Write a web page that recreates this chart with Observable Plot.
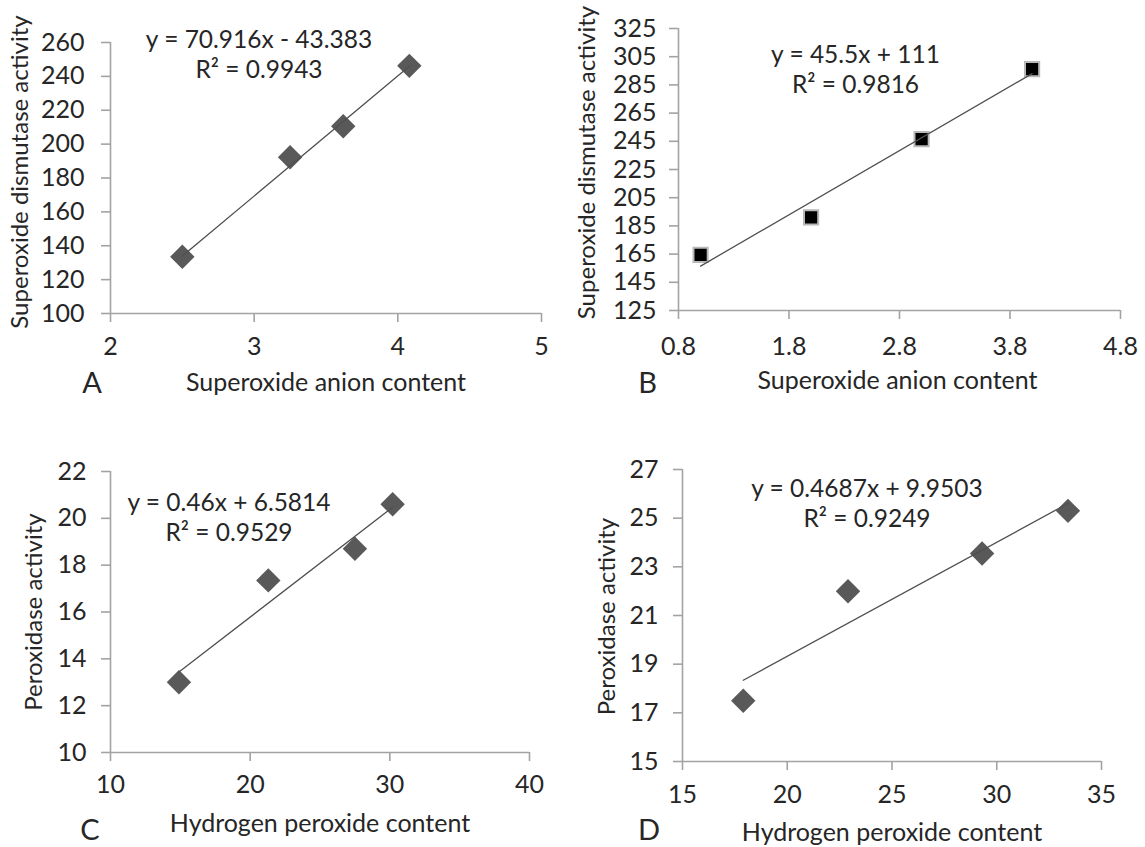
<!DOCTYPE html>
<html><head><meta charset="utf-8">
<script src="https://cdn.jsdelivr.net/npm/d3@7"></script>
<script src="https://cdn.jsdelivr.net/npm/@observablehq/plot@0.6"></script>
<style>
html,body{margin:0;padding:0;background:#fff;}
#wrap{position:relative;width:1145px;height:847px;overflow:hidden;background:#fff;}
.panel{position:absolute;}
</style></head><body><div id="wrap"></div>
<script>
// ---------- data ----------
const panelLetters = ["A", "B", "C", "D"];
const xLabels = ["Superoxide anion content", "Superoxide anion content", "Hydrogen peroxide content", "Hydrogen peroxide content"];
const yLabels = ["Superoxide dismutase activity", "Superoxide dismutase activity", "Peroxidase activity", "Peroxidase activity"];

const xA = [2.50, 3.25, 3.62, 4.08];
const yA = [133.5, 192.3, 210.6, 246.2];
const xB = [1.0, 2.0, 3.0, 4.0];
const yB = [164.5, 191.1, 246.6, 296.2];
const xC = [14.9, 21.3, 27.5, 30.2];
const yC = [13.0, 17.35, 18.7, 20.6];
const xD = [17.9, 22.9, 29.3, 33.4];
const yD = [17.5, 22.0, 23.55, 25.3];

const slopes = [70.916, 45.5, 0.46, 0.4687];
const intercepts = [-43.383, 111, 6.5814, 9.9503];
const equations = ["y = 70.916x - 43.383", "y = 45.5x + 111", "y = 0.46x + 6.5814", "y = 0.4687x + 9.9503"];
const rSquared = ["R\u00b2 = 0.9943", "R\u00b2 = 0.9816", "R\u00b2 = 0.9529", "R\u00b2 = 0.9249"];

const xTicksA = [2, 3, 4, 5];
const yTicksA = [100, 120, 140, 160, 180, 200, 220, 240, 260];
const xTicksB = [0.8, 1.8, 2.8, 3.8, 4.8];
const yTicksB = [125, 145, 165, 185, 205, 225, 245, 265, 285, 305, 325];
const xTicksC = [10, 20, 30, 40];
const yTicksC = [10, 12, 14, 16, 18, 20, 22];
const xTicksD = [15, 20, 25, 30, 35];
const yTicksD = [15, 17, 19, 21, 23, 25, 27];

// ---------- layout / style ----------
const FONT = "Lato";
const axisColor = "#a3a3a3";
const textColor = "#262626";
const TICK_FS = 25, LABEL_FS = 25, YLABEL_FS = 24, EQ_FS = 24.5, LETTER_FS = 29;

const panels = [
  {xs: xA, ys: yA, xTicks: xTicksA, yTicks: yTicksA, xFmt: d3.format("d"),
   left: 0, top: 0, width: 572, height: 420, mt: 42, mr: 31, mb: 107, ml: 110,
   xPad: 15, yPad: 17, symbol: "diamond2", r: 11, fill: "#595959", stroke: "none", sw: 0,
   eq: {dx: -67, dy: 11}, yl: {dx: -90, dy: -6}, xl: {dx: 0, dy: 69}, let: {dx: -234, dy: 70}},
  {xs: xB, ys: yB, xTicks: xTicksB, yTicks: yTicksB, xFmt: d3.format(".1f"),
   left: 572, top: 0, width: 573, height: 420, mt: 28, mr: 25, mb: 110, ml: 106,
   xPad: 18, yPad: 13, symbol: "square", r: 8, fill: "#000", stroke: "#b8b8b8", sw: 2,
   eq: {dx: -44, dy: 40}, yl: {dx: -91, dy: -7}, xl: {dx: -2, dy: 70}, let: {dx: -252, dy: 73}},
  {xs: xC, ys: yC, xTicks: xTicksC, yTicks: yTicksC, xFmt: d3.format("d"),
   left: 0, top: 420, width: 572, height: 427, mt: 51, mr: 43, mb: 95, ml: 110,
   xPad: 14, yPad: 15, symbol: "diamond2", r: 11, fill: "#595959", stroke: "none", sw: 0,
   eq: {dx: -91, dy: 45}, yl: {dx: -76, dy: 0}, xl: {dx: 0, dy: 71}, let: {dx: -230, dy: 78}},
  {xs: xD, ys: yD, xTicks: xTicksD, yTicks: yTicksD, xFmt: d3.format("d"),
   left: 572, top: 420, width: 573, height: 427, mt: 49, mr: 44, mb: 86, ml: 110,
   xPad: 15, yPad: 15, symbol: "diamond2", r: 11, fill: "#595959", stroke: "none", sw: 0,
   eq: {dx: -25, dy: 33}, yl: {dx: -75, dy: 1}, xl: {dx: 0, dy: 71}, let: {dx: -243, dy: 69}}
];

const wrap = document.getElementById("wrap");

panels.forEach((p, i) => {
  const pts = p.xs.map((x, k) => ({x, y: p.ys[k]}));
  const x0 = d3.min(p.xs), x1 = d3.max(p.xs);
  const trend = [x0, x1].map(x => ({x, y: slopes[i] * x + intercepts[i]}));
  const xDom = d3.extent(p.xTicks), yDom = d3.extent(p.yTicks);

  const chart = Plot.plot({
    width: p.width, height: p.height,
    marginTop: p.mt, marginRight: p.mr, marginBottom: p.mb, marginLeft: p.ml,
    style: {fontFamily: FONT, fontSize: TICK_FS + "px", color: textColor, background: "white", overflow: "visible"},
    x: {domain: xDom},
    y: {domain: yDom},
    marks: [
      Plot.ruleX([xDom[0]], {stroke: axisColor, strokeWidth: 1.6}),
      Plot.ruleY([yDom[0]], {stroke: axisColor, strokeWidth: 1.6}),
      Plot.axisX({ticks: p.xTicks, tickFormat: p.xFmt, tickSize: 9, tickPadding: p.xPad,
        stroke: axisColor, strokeWidth: 1.6, fill: textColor, fontSize: TICK_FS, label: null}),
      Plot.axisY({ticks: p.yTicks, tickFormat: d3.format("d"), tickSize: 9, tickPadding: p.yPad,
        stroke: axisColor, strokeWidth: 1.6, fill: textColor, fontSize: TICK_FS, label: null}),
      Plot.dot(pts, {x: "x", y: "y", symbol: p.symbol, r: p.r, fill: p.fill,
        stroke: p.stroke, strokeWidth: p.sw}),
      Plot.line(trend, {x: "x", y: "y", stroke: "#505050", strokeWidth: 1.3}),
      Plot.text([equations[i] + "\n" + rSquared[i]], {frameAnchor: "top", text: d => d,
        textAnchor: "middle", dx: p.eq.dx, dy: p.eq.dy, lineAnchor: "middle", lineHeight: 1.22,
        fontSize: EQ_FS, fill: textColor}),
      Plot.text([yLabels[i]], {frameAnchor: "left", text: d => d, rotate: -90, textAnchor: "middle",
        dx: p.yl.dx, dy: p.yl.dy, lineAnchor: "middle", fontSize: YLABEL_FS, fill: textColor}),
      Plot.text([xLabels[i]], {frameAnchor: "bottom", text: d => d, textAnchor: "middle",
        dx: p.xl.dx, dy: p.xl.dy, lineAnchor: "middle", fontSize: LABEL_FS, fill: textColor}),
      Plot.text([panelLetters[i]], {frameAnchor: "bottom", text: d => d, textAnchor: "middle",
        dx: p.let.dx, dy: p.let.dy, lineAnchor: "middle", fontSize: LETTER_FS, fill: textColor})
    ]
  });
  chart.classList.add("panel");
  chart.style.left = p.left + "px";
  chart.style.top = p.top + "px";
  wrap.appendChild(chart);
});
</script>
</body></html>
